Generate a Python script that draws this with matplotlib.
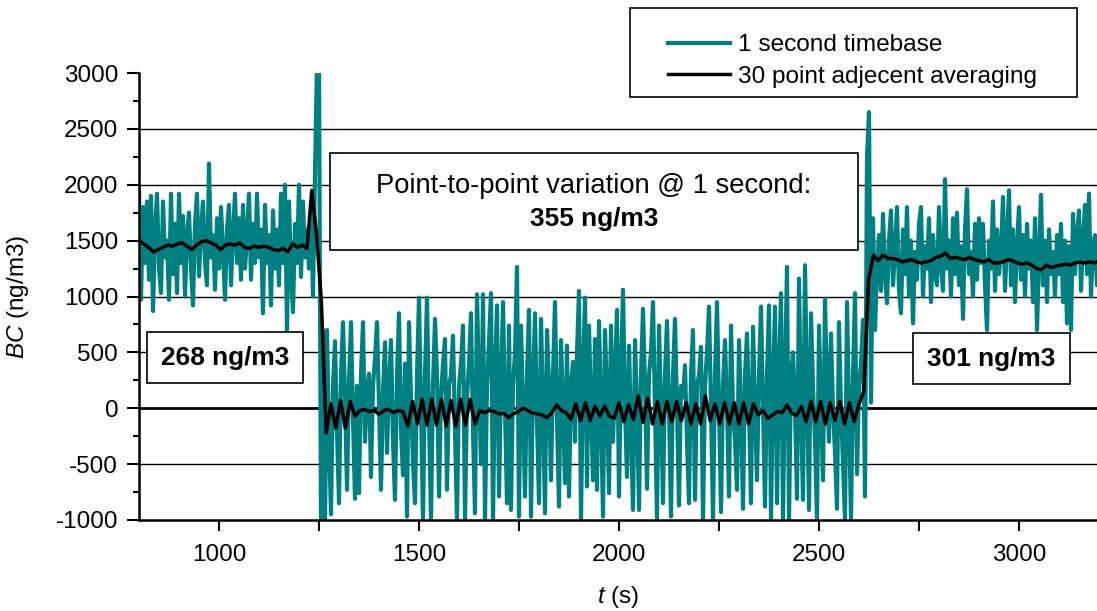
import numpy as np
import matplotlib.pyplot as plt
from matplotlib.patches import Rectangle

plt.rcParams['font.family'] = ['Liberation Sans', 'DejaVu Sans']
plt.rcParams['mathtext.fontset'] = 'custom'
plt.rcParams['mathtext.it'] = 'Liberation Sans:italic'
plt.rcParams['mathtext.rm'] = 'Liberation Sans'
plt.rcParams['axes.unicode_minus'] = False

t0_fast, dt_fast = 800, 5
bc_fast = [
    1950, 970, 1800, 1300, 1850, 1150, 1900, 870, 1600, 1920, 1250, 1030,        # 800
    1850, 1350, 1500, 970, 1920, 1200, 1650, 1030, 1920, 1300, 1720, 1000,       # 860
    1550, 1750, 1250, 920, 1650, 1920, 1180, 1600, 1850, 1300, 1100, 2190,       # 920
    1350, 1550, 1060, 1700, 1250, 1800, 1400, 970, 1600, 1820, 1100, 1550,       # 980
    1920, 1300, 1700, 1150, 1820, 1250, 1550, 1920, 1150, 1650, 1300, 1920,      # 1040
    1350, 1600, 850, 1820, 1300, 1550, 920, 1770, 1250, 1600, 1100, 1920,        # 1100
    1300, 2000, 700, 1850, 1200, 860, 1650, 1300, 2000, 1175, 1850, 1350,        # 1160
    1600, 1250, 1830, 1000, 2100, 3100, 3100, -1050, 700, -1050, 700, -300,      # 1220
    -950, 200, 600, -200, -850, 300, 770, 100, -730, 250, 770, -100,             # 1280
    -810, 200, -760, 300, 770, -300, 150, 310, -615, 200, 450, 770,              # 1340
    0, -730, 150, 590, -400, 200, 610, -300, -820, 300, 850, -200,               # 1400
    -600, 400, -970, 770, 100, -500, -850, 300, 990, 0, -1000, 300,              # 1460
    990, -100, -1000, 200, 800, 300, -790, 100, 400, 620, -730, 200,             # 1520
    300, 650, -200, -1000, 200, 400, 740, -1000, 100, 400, 850, -200,            # 1580
    -940, 1020, 200, -500, 1020, -1000, 200, 600, 1030, -1000, 300, 920,         # 1640
    -790, 200, 950, 0, -850, 740, -910, 200, 500, 1265, -970, 740,               # 1700
    0, -790, 300, 880, -970, 200, 850, -100, -850, 800, 0, -940,                 # 1760
    700, 200, -645, 300, 950, -100, -880, 610, 0, -670, 560, -790,               # 1820
    200, 415, -300, 500, 1050, -1000, 300, 990, -700, 740, 0, -645,              # 1880
    620, -730, 780, 0, -970, 700, 100, -760, 740, -300, 300, 880,                # 1940
    -790, 300, 1060, 0, -615, 560, -200, -910, 610, 0, -910, 300,                # 2000
    890, 200, -720, 300, 500, 950, 0, -1000, 740, 0, -850, 300,                  # 2060
    780, 0, -970, 300, 800, 0, -870, 200, 100, 385, -300, -850,                  # 2120
    300, 700, -820, 200, 300, 550, -1000, 200, 500, 910, 0, -1000,               # 2180
    300, 950, 0, -930, 200, 610, 0, -790, 740, 0, -300, -730,                    # 2240
    610, 0, -900, 300, 670, 0, -850, 730, 0, -645, 300, 910,                     # 2300
    0, -880, 300, 920, -1000, 200, 910, -850, 300, 1030, -1000, 300,             # 2360
    1265, -1000, 300, 500, 0, -810, 1160, 0, -820, 1280, 200, -910,              # 2420
    850, 200, -300, -1000, 740, 0, -645, 980, 200, -300, 670, 0,                 # 2480
    -400, -900, 770, 0, -500, -1000, 950, 0, -1000, 300, 1030, -590,             # 2540
    200, 400, 790, -790, 2250, 2650, 50, 1700, 700, 1250, 1550, 1050,            # 2600
    1740, 1200, 940, 1500, 1770, 1100, 1400, 1800, 1050, 850, 1600, 1200,        # 2660
    1800, 1000, 1500, 760, 1400, 1150, 1650, 1800, 1000, 1450, 1250, 1700,       # 2720
    950, 1550, 1200, 1100, 1800, 1300, 1050, 2050, 1250, 1500, 1000, 1700,       # 2780
    1200, 1750, 1100, 1450, 800, 1600, 1960, 1200, 1400, 1000, 1650, 1150,       # 2840
    1700, 1300, 1650, 1100, 700, 1500, 1250, 1850, 1050, 1600, 1200, 1400,       # 2900
    1890, 1050, 1500, 1950, 1100, 1600, 950, 1450, 1800, 1150, 1550, 1000,       # 2960
    1650, 1250, 1500, 950, 1700, 700, 1350, 1910, 1100, 1500, 950, 1600,         # 3020
    1200, 1400, 1000, 1550, 1200, 1650, 950, 1500, 760, 1450, 700, 1740,         # 3080
    1200, 1550, 1770, 1050, 1500, 1820, 1200, 1920, 1000, 1450, 1550, 1100,      # 3140
    1600,                                                                        # 3200
]

t0_avg, dt_avg = 800, 12
bc_avg = [
    1500, 1470, 1440, 1400, 1420, 1440, 1460, 1450, 1470, 1480,   # 800
    1450, 1420, 1460, 1490, 1500, 1480, 1460, 1420, 1460, 1470,   # 920
    1460, 1480, 1440, 1430, 1450, 1440, 1450, 1440, 1420, 1410,   # 1040
    1430, 1400, 1470, 1440, 1460, 1430, 1950, 1550, 950, -220,    # 1160
    40, -180, 70, -180, 60, -70, -20, -10, -30, -20,              # 1280
    -55, -20, -10, -40, -20, -30, -160, 60, -140, 80,             # 1400
    -150, 80, -150, 80, -160, 70, -160, 80, -150, 80,             # 1520
    -140, -20, -40, -20, -30, -50, -45, -85, -50, -30,            # 1640
    0, -20, -45, -50, -60, -85, -40, 30, -20, -40,                # 1760
    -100, 40, -110, 50, -110, 20, -70, 20, -70, -90,              # 1880
    50, -120, 30, -100, 110, -125, 90, -140, 60, -140,            # 2000
    60, -120, 60, -110, 50, -140, 40, -140, 110, -110,            # 2120
    40, -140, 50, -140, 50, -140, 50, -140, 40, -60,              # 2240
    -20, -90, -60, -30, -40, 30, -45, -65, 15, -120,              # 2360
    60, -120, 60, -140, 50, -110, 60, -140, 50, -120,             # 2480
    40, 150, 1150, 1370, 1320, 1370, 1340, 1340, 1330, 1310,      # 2600
    1320, 1330, 1310, 1300, 1310, 1320, 1350, 1360, 1390, 1340,   # 2720
    1350, 1340, 1330, 1350, 1330, 1320, 1310, 1330, 1300, 1300,   # 2840
    1310, 1330, 1320, 1300, 1290, 1300, 1280, 1250, 1240, 1280,   # 2960
    1260, 1270, 1280, 1290, 1280, 1300, 1310, 1300, 1310, 1300,   # 3080
    1320,                                                         # 3200
]

grid_levels = [-500, 500, 1000, 1500, 2000, 2500]
xticks = [1000, 1500, 2000, 2500, 3000]
yticks = [-1000, -500, 0, 500, 1000, 1500, 2000, 2500, 3000]

t_fast = t0_fast + dt_fast * np.arange(len(bc_fast))
t_avg = t0_avg + dt_avg * np.arange(len(bc_avg))

teal = '#008080'

fig = plt.figure(figsize=(10.97, 6.11), dpi=100)
W, H = 1097, 611
ax = fig.add_axes([139 / W, 1 - 520 / H, 960 / W, 447 / H])

# horizontal grid, zero line heavier
for g in grid_levels:
    ax.axhline(g, color='black', lw=1.0, zorder=1)
ax.axhline(0, color='black', lw=2.0, zorder=1)

l1, = ax.plot(t_fast, bc_fast, color=teal, lw=3.0, zorder=2, label='1 second timebase')
l2, = ax.plot(t_avg, bc_avg, color='black', lw=2.5, zorder=3, label='30 point adjecent averaging')

ax.set_xlim(800, 3200)
ax.set_ylim(-1000, 3000)
ax.spines['top'].set_visible(False)
ax.spines['right'].set_visible(False)
ax.spines['left'].set_linewidth(1.8)
ax.spines['bottom'].set_linewidth(1.8)

ax.set_xticks(xticks)
ax.set_xticks([1250, 1750, 2250, 2750], minor=True)
ax.set_yticks(yticks)
ax.set_yticks(np.arange(-750, 3000, 500), minor=True)
ax.tick_params(axis='x', which='both', direction='out', length=8, width=1.5, pad=9, labelsize=17.5)
ax.tick_params(axis='y', which='major', direction='out', length=9, width=1.5, pad=6, labelsize=17.5)
ax.tick_params(axis='y', which='minor', direction='out', length=4, width=1.5)

fig.text(18 / W, 1 - 297 / H, '$BC$ (ng/m3)', rotation=90, ha='center', va='center', fontsize=17.5)
fig.text(618 / W, 1 - 597 / H, '$t$ (s)', ha='center', va='center', fontsize=17.5)

# annotation boxes (axes fraction)
def box(x0, y0, x1, y1):
    ax.add_patch(Rectangle((x0, y0), x1 - x0, y1 - y0, transform=ax.transAxes,
                           facecolor='white', edgecolor='black', lw=1.2, zorder=5, clip_on=False))

box(0.199, 0.604, 0.749, 0.821)
ax.text(0.474, 0.748, 'Point-to-point variation @ 1 second:', transform=ax.transAxes,
        ha='center', va='center', fontsize=19.7, zorder=6)
ax.text(0.474, 0.674, '355 ng/m3', transform=ax.transAxes, ha='center', va='center',
        fontsize=18.9, fontweight='bold', zorder=6)

box(0.0083, 0.306, 0.171, 0.4206)
ax.text(0.0896, 0.362, '268 ng/m3', transform=ax.transAxes, ha='center', va='center',
        fontsize=18.9, fontweight='bold', zorder=6)

box(0.806, 0.304, 0.970, 0.418)
ax.text(0.888, 0.361, '301 ng/m3', transform=ax.transAxes, ha='center', va='center',
        fontsize=18.9, fontweight='bold', zorder=6)

# legend with its own frame
fig.add_artist(Rectangle((630 / W, 1 - 97 / H), 447 / W, 89 / H, transform=fig.transFigure,
                         facecolor='white', edgecolor='black', lw=1.2, zorder=5))
leg = fig.legend(handles=[l1, l2], loc='upper left', bbox_to_anchor=(668 / W, 1 - 34 / H),
                 frameon=False, fontsize=17.6, borderpad=0, borderaxespad=0,
                 handlelength=2.55, handletextpad=0.3, labelspacing=0.38)
leg.set_zorder(6)

fig.savefig('out.png', dpi=100)
